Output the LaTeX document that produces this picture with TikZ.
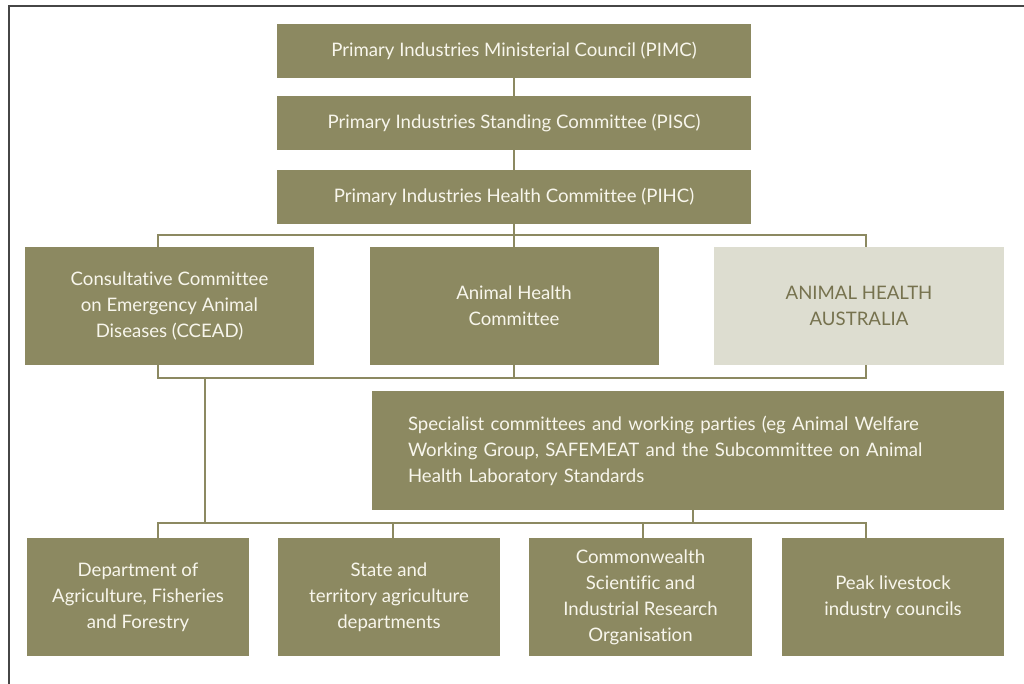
\documentclass[tikz,border=0pt]{standalone}
\usepackage{fontspec}
\setmainfont[Ligatures=NoCommon]{Lato}
\definecolor{olive}{RGB}{140,137,97}
\definecolor{paleolive}{RGB}{221,221,208}
\definecolor{oliveink}{RGB}{118,114,78}
\definecolor{boxink}{RGB}{248,246,236}
\definecolor{framegrey}{RGB}{70,70,70}
\begin{document}
\begin{tikzpicture}[x=1pt,y=-1pt,
  orgbox/.style={fill=olive, text=boxink, align=center, inner sep=0pt,
    font=\fontsize{18.6}{26}\selectfont},
  palebox/.style={orgbox, fill=paleolive, text=oliveink},
  link/.style={draw=olive, line width=1.8pt}]
\useasboundingbox (0,0) rectangle (1024,684);
% page frame: top and left rules only
\draw[framegrey, line width=2pt] (1024,6) -- (9,6) -- (9,684);

% top chain
\node[orgbox, minimum width=474, minimum height=54] (pimc) at (514,51) {Primary Industries Ministerial Council (PIMC)};
\node[orgbox, minimum width=474, minimum height=54] (pisc) at (514,123) {Primary Industries Standing Committee (PISC)};
\node[orgbox, minimum width=474, minimum height=54] (pihc) at (514,197) {Primary Industries Health Committee (PIHC)};

% middle row
\node[orgbox, minimum width=289, minimum height=118] (ccead) at (169.5,306) {Consultative Committee\\on Emergency Animal\\Diseases (CCEAD)};
\node[orgbox, minimum width=289, minimum height=118] (ahc) at (514,306) {Animal Health\\Committee};
\node[palebox, minimum width=290, minimum height=118] (aha) at (859,306) {ANIMAL HEALTH\\AUSTRALIA};

% specialist committees
\node[orgbox, minimum width=632, minimum height=119, text width=560, align=left, inner xsep=36pt] (spec) at (688,450.5)
  {Specialist committees and working parties (eg Animal Welfare\\Working Group, SAFEMEAT and the Subcommittee on Animal\\Health Laboratory Standards};

% bottom row
\node[orgbox, minimum width=222, minimum height=118] (daff) at (138,597) {Department of\\Agriculture, Fisheries\\and Forestry};
\node[orgbox, minimum width=222, minimum height=118] (state) at (389,597) {State and\\territory agriculture\\departments};
\node[orgbox, minimum width=223, minimum height=118] (csiro) at (640.5,597) {Commonwealth\\Scientific and\\Industrial Research\\Organisation};
\node[orgbox, minimum width=222, minimum height=118] (peak) at (893,597) {Peak livestock\\industry councils};

% bus coordinates
\coordinate (ta) at (158,235);
\coordinate (tb) at (866,235);
\coordinate (ba) at (158,378);
\coordinate (bb) at (866,378);
\coordinate (bv) at (205,378);
\coordinate (ca) at (158,523);
\coordinate (cb) at (866,523);
\coordinate (cv) at (205,523);
\coordinate (cs) at (693,523);
\coordinate (cstate) at (393,523);
\coordinate (ccsiro) at (643,523);

% connectors
\draw[link] (pimc.south) -- (pisc.north);
\draw[link] (pisc.south) -- (pihc.north);
\draw[link] (pihc.south) -- (ahc.north);
\draw[link] (ta |- ccead.north) -- (ta) -- (tb) -- (tb |- aha.north);
\draw[link] (ta |- ccead.south) -- (ba) -- (bb) -- (tb |- aha.south);
\draw[link] (ahc.south) -- (ahc.south |- ba);
\draw[link] (bv) -- (cv);
\draw[link] (cs |- spec.south) -- (cs);
\draw[link] (ca |- daff.north) -- (ca) -- (cb) -- (cb |- peak.north);
\draw[link] (cstate) -- (cstate |- state.north);
\draw[link] (ccsiro) -- (ccsiro |- csiro.north);
\end{tikzpicture}
\end{document}
